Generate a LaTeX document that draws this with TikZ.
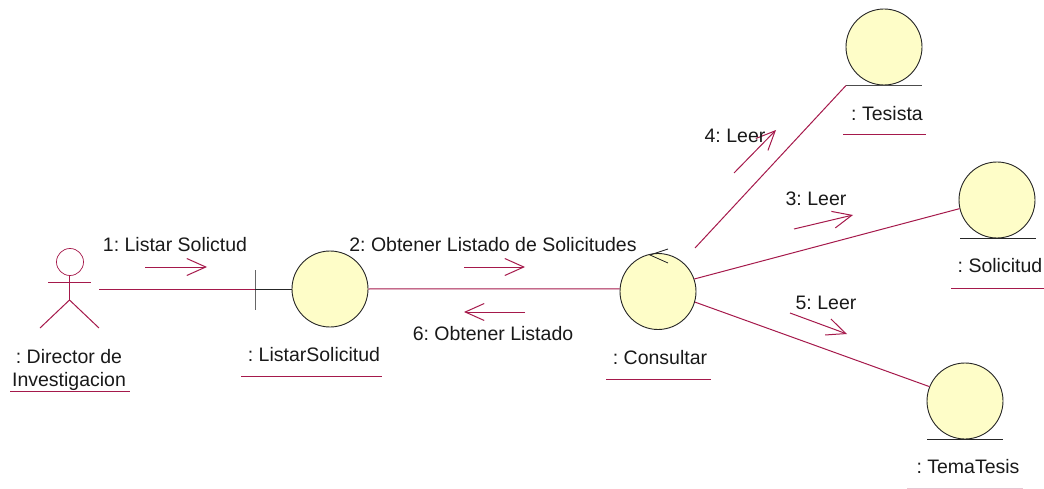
\documentclass[tikz,border=0pt]{standalone}
\usepackage{fontspec}
\setmainfont{Liberation Sans}
\usetikzlibrary{arrows.meta}
\definecolor{linkred}{RGB}{165,25,75}
\definecolor{ballfill}{RGB}{254,253,200}
\tikzset{
	ball/.style={circle,draw=black!85,fill=ballfill,line width=.9pt,minimum size=76pt,inner sep=0pt},
	link/.style={draw=linkred,line width=1pt},
	msg/.style={draw=linkred,line width=1pt,-{Straight Barb[length=19pt,width=17pt,line width=1pt]}},
	txt/.style={font=\fontsize{19.5}{22}\selectfont\frenchspacing,inner sep=0pt,text=black!90,yshift=-1pt}
}
\begin{document}
\begin{tikzpicture}[x=1pt,y=-1pt]
	\useasboundingbox (0,0) rectangle (1044,489);

	% balls
	\node[ball] (listar) at (330,289){};
	\node[ball] (consultar) at (658,291.5){};
	\node[ball] (tesista) at (884,47){};
	\node[ball] (solicitud) at (997,200){};
	\node[ball] (tema) at (965,401){};

	% floors under the entities
	\draw[line width=.9pt,black!70] (846,85.5) -- (922,85.5);
	\draw[line width=.9pt,black!85] (960,238.5) -- (1036,238.5);
	\draw[line width=.9pt,black!85] (927,439.5) -- (1003,439.5);

	% actor
	\node[circle,draw=linkred,line width=.7pt,minimum size=27pt,inner sep=0pt] (head) at (70,262){};
	\coordinate (hip) at (69.5,300);
	\coordinate (hand) at (99,289);
	\draw[link] (head.south -| hip) -- (hip);
	\draw[link] (48,282) -- (91,282);
	\draw[link] (40,328) -- (hip) -- (99,328);

	% boundary
	\coordinate (bar) at (255,289);
	\draw[line width=1pt,black!60] (255,270) -- (255,310);
	\draw[line width=1pt,black!85] (bar) -- (listar.west);

	% links
	\coordinate (start) at (695,248);
	\draw[link] (hand) -- (bar);
	\draw[link] (listar.east) -- (consultar.176);
	\draw[link] (start) -- (846,85.5);
	\draw[link] (consultar.19) -- (solicitud.193);
	\draw[link] (consultar.-16) -- (tema.158);

	% self arrow
	\draw[line width=.8pt,black!85] (668,249) -- (650,255) -- (668,263);

	% messages
	\draw[msg] (145,267) -- (207,267);
	\draw[msg] (464,267) -- (525,267);
	\draw[msg] (525,312) -- (464,312);
	\draw[msg] (734,173) -- (776,130);
	\draw[msg] (794,229) -- (853,215);
	\draw[msg] (790,313) -- (847,334);

	% message labels
	\node[txt] (m1) at (175,244){1: Listar Solictud};
	\node[txt] (m2) at (493,244){2: Obtener Listado de Solicitudes};
	\node[txt] (m6) at (493,333){6: Obtener Listado};
	\node[txt] (m4) at (735,135){4: Leer};
	\node[txt] (m3) at (816,198){3: Leer};
	\node[txt] (m5) at (826,302){5: Leer};

	% names
	\node[txt] (n1) at (69,356){: Director de};
	\node[txt] (n2) at (69,380){Investigacion};
	\node[txt] (n3) at (314,354){: ListarSolicitud};
	\node[txt] (n4) at (660,357){: Consultar};
	\node[txt] (n5) at (887,113){: Tesista};
	\node[txt] (n6) at (1000,265){: Solicitud};
	\node[txt] (n7) at (968,466){: TemaTesis};

	\draw[link] (10,391) -- (130,391);
	\draw[link] (241,376) -- (382,376);
	\draw[link] (606,379) -- (711,379);
	\draw[link] (843,135) -- (926,135);
	\draw[link] (951,288) -- (1044,288);
	\draw[draw=linkred!25,line width=1pt] (907,488) -- (1023,488);
\end{tikzpicture}
\end{document}
